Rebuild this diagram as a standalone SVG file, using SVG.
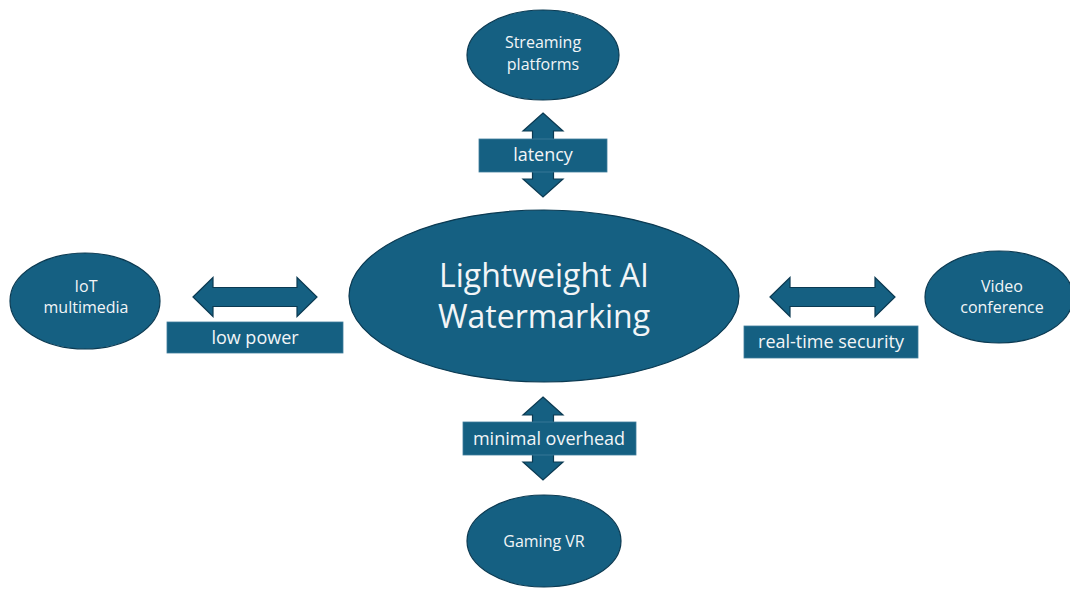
<svg xmlns="http://www.w3.org/2000/svg" width="1070" height="592" viewBox="0 0 1070 592">
<style>
.node{fill:#156082;stroke:#0b3a52;stroke-width:1.2}
.arrow{fill:#156082;stroke:#0b3a52;stroke-width:1.2;stroke-linejoin:miter}
.lbox{fill:#156082;stroke:#3f7d9c;stroke-width:0.8}
text{font-family:"Open Sans","Liberation Sans",sans-serif;fill:#f2f5f7;text-anchor:middle}
.t16{font-size:16px}
.t18{font-size:18px}
.t32{font-size:32px}
</style>
<rect width="1070" height="592" fill="#ffffff"/>
<g id="connectors">
<path class="arrow" d="M543,113 L563,131 L553.5,131 L553.5,179 L563,179 L543,197 L523,179 L532.5,179 L532.5,131 L523,131 Z"/>
<path class="arrow" d="M543,397 L563,415 L553.5,415 L553.5,462 L563,462 L543,480 L523,462 L532.5,462 L532.5,415 L523,415 Z"/>
<path class="arrow" d="M193,297 L213,277.5 L213,287.5 L297,287.5 L297,277.5 L317,297 L297,316.5 L297,306.5 L213,306.5 L213,316.5 Z"/>
<path class="arrow" d="M770,297 L790,277.5 L790,287.5 L875,287.5 L875,277.5 L895,297 L875,316.5 L875,306.5 L790,306.5 L790,316.5 Z"/>
<g id="label-latency"><rect class="lbox" x="479" y="139" width="128" height="33"/><text class="t18" x="543" y="161">latency</text></g>
<g id="label-lowpower"><rect class="lbox" x="167" y="322" width="176" height="31"/><text class="t18" x="255" y="344">low power</text></g>
<g id="label-realtime"><rect class="lbox" x="744" y="326" width="174" height="32"/><text class="t18" x="831" y="348">real-time security</text></g>
<g id="label-overhead"><rect class="lbox" x="463" y="422" width="173" height="33"/><text class="t18" x="549" y="445">minimal overhead</text></g>
</g>
<g id="center">
<ellipse class="node" cx="544" cy="296" rx="195" ry="86"/>
<text class="t32" x="544" y="287">Lightweight AI</text>
<text class="t32" x="544" y="328">Watermarking</text>
</g>
<g id="streaming">
<ellipse class="node" cx="543" cy="55" rx="76" ry="45"/>
<text class="t16" x="543" y="48">Streaming</text>
<text class="t16" x="543" y="70">platforms</text>
</g>
<g id="iot">
<ellipse class="node" cx="85" cy="301" rx="75" ry="48"/>
<text class="t16" x="86" y="292">IoT</text>
<text class="t16" x="86" y="313">multimedia</text>
</g>
<g id="video">
<ellipse class="node" cx="999" cy="297" rx="74" ry="46"/>
<text class="t16" x="1002" y="292">Video</text>
<text class="t16" x="1002" y="313">conference</text>
</g>
<g id="gaming">
<ellipse class="node" cx="544" cy="541" rx="77" ry="46"/>
<text class="t16" x="544" y="547">Gaming VR</text>
</g>
</svg>
